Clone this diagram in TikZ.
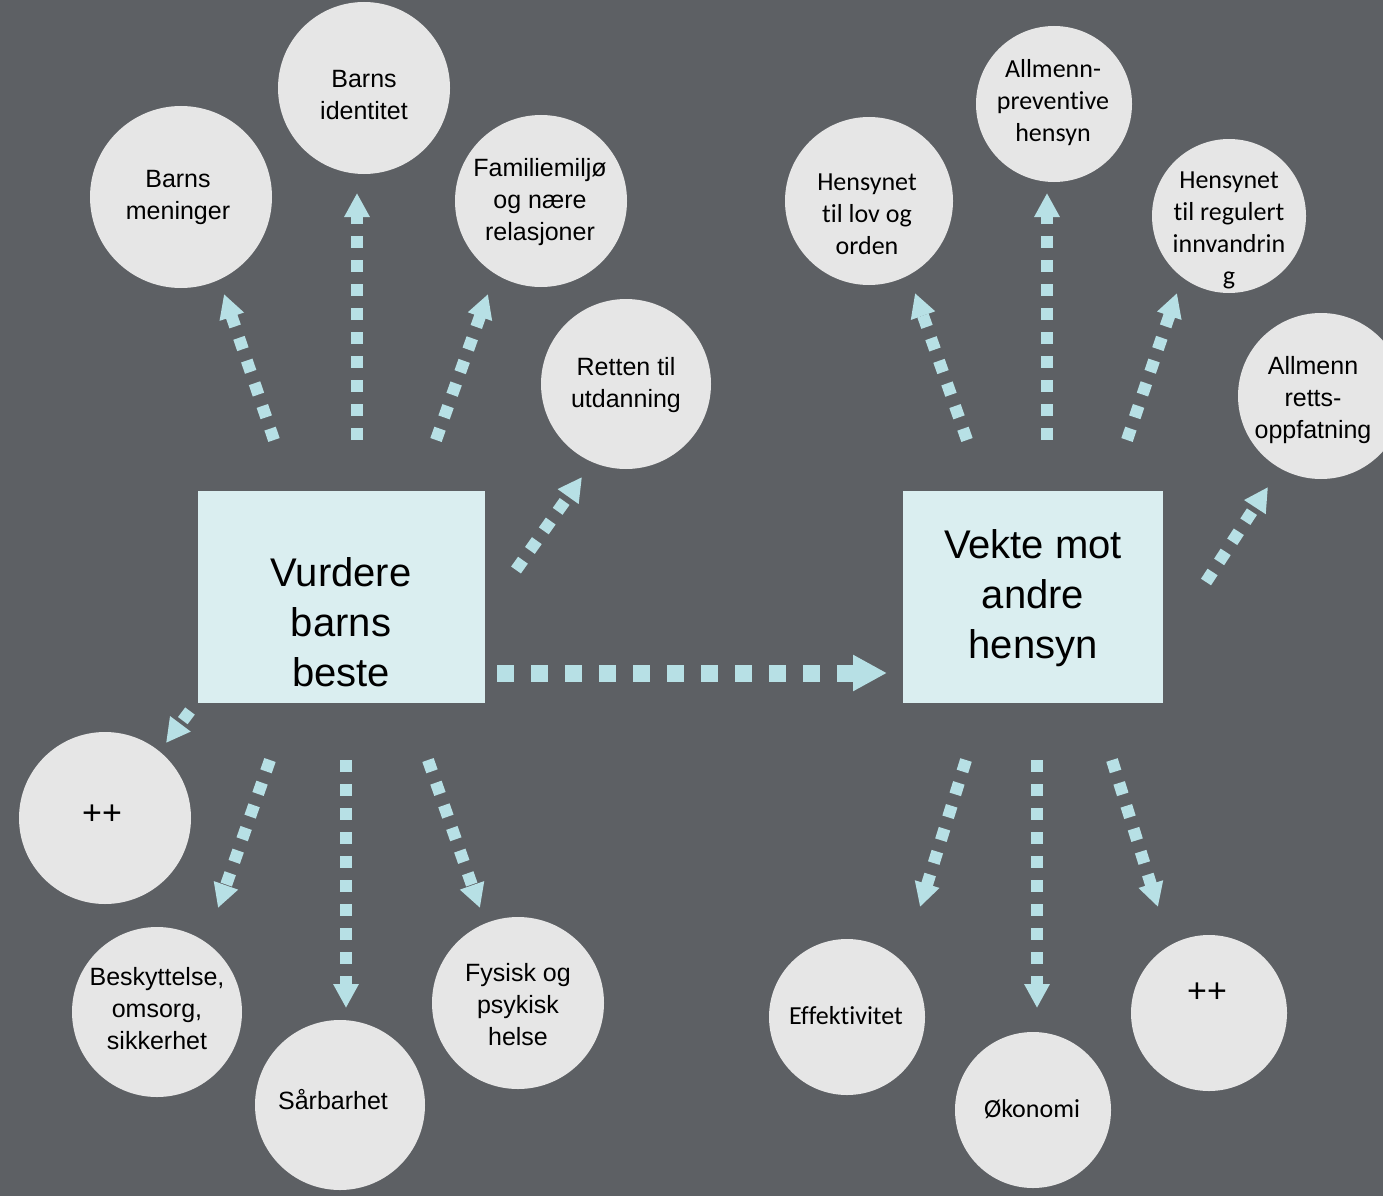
\documentclass[tikz,border=0pt]{standalone}
\usepackage{fontspec}
\setmainfont{Liberation Sans}
\newfontfamily\calfont[Ligatures=NoCommon]{Carlito}
\newcommand\tnolig{t\kern0pt i}
\usetikzlibrary{arrows.meta}
\definecolor{bgc}{RGB}{93,96,100}
\definecolor{circc}{RGB}{230,230,230}
\definecolor{boxc}{RGB}{218,238,240}
\definecolor{arrc}{RGB}{183,224,229}
\tikzset{
  circ/.style={circle, fill=circc, inner sep=0pt, minimum size=#1},
  boxn/.style={rectangle, fill=boxc, inner sep=0pt},
  ltxt/.style={align=center, text=black, inner sep=0pt, font=\fontsize{25}{32}\selectfont},
  rtxt/.style={align=center, text=black, inner sep=0pt, font=\calfont\fontsize{26}{32}\selectfont},
  plustxt/.style={text=black, inner sep=0pt, font=\fontsize{34}{40}\selectfont},
  btxt/.style={align=center, text=black, inner sep=0pt, font=\fontsize{40}{50}\selectfont},
  arr/.style={draw=arrc, line width=12pt, dash pattern=on 12pt off 12pt,
    -{Triangle[length=24pt,width=24pt,fill=arrc]}},
  bigarr/.style={draw=arrc, line width=17pt, dash pattern=on 17pt off 17pt,
    -{Triangle[length=34pt,width=34pt,fill=arrc]}}
}
\begin{document}
\begin{tikzpicture}[x=1pt,y=-1pt]
\useasboundingbox (0,0) rectangle (1383,1196);
\clip (0,0) rectangle (1383,1196);
\fill[bgc] (0,0) rectangle (1383,1196);

% boxes
\node[boxn, minimum width=287pt, minimum height=212pt] (b1) at (341.5,597) {};
\node[btxt] (b1t) at (341,622) {Vurdere\\barns\\beste};
\node[boxn, minimum width=260pt, minimum height=212pt] (b2) at (1033,597) {};
\node[btxt] (b2t) at (1033,598) {Vekte mot\\andre\\hensyn};

% left circles
\node[circ=182pt] (c1) at (181,197) {};
\node[ltxt] (c1t) at (178,197) {Barns\\meninger};
\node[circ=172pt] (c2) at (364,88) {};
\node[ltxt] (c2t) at (364,95) {Barns\\identitet};
\node[circ=172pt] (c3) at (541,201) {};
\node[ltxt] (c3t) at (540,202) {Familiemiljø\\og nære\\relasjoner};
\node[circ=170pt] (c4) at (626,384) {};
\node[ltxt] (c4t) at (626,385) {Retten til\\utdanning};
\node[circ=172pt] (c5) at (105,818) {};
\node[plustxt] (c5t) at (102,815) {++};
\node[circ=170pt] (c6) at (157,1012) {};
\node[ltxt] (c6t) at (157,1009) {Beskyttelse,\\omsorg,\\sikkerhet};
\node[circ=170pt] (c7) at (340,1105) {};
\node[ltxt] (c7t) at (333,1100) {Sårbarhet};
\node[circ=172pt] (c8) at (518,1003) {};
\node[ltxt] (c8t) at (518,1005) {Fysisk og\\psykisk\\helse};

% right circles
\node[circ=168pt] (c9) at (869,201) {};
\node[rtxt] (c9t) at (867,214) {Hensynet\\\tnolig l lov og\\orden};
\node[circ=156pt] (c10) at (1054,104) {};
\node[rtxt] (c10t) at (1053,103) {Allmenn-\\preven\tnolig ve\\hensyn};
\node[circ=154pt] (c11) at (1229,216) {};
\node[rtxt] (c11t) at (1229,230) {Hensynet\\\tnolig l regulert\\innvandrin\\g};
\node[circ=166pt] (c12) at (1321,396) {};
\node[ltxt] (c12t) at (1313,400) {Allmenn\\retts-\\oppfatning};
\node[circ=156pt] (c13) at (847,1017) {};
\node[rtxt] (c13t) at (846,1016) {Effek\tnolig vitet};
\node[circ=156pt] (c14) at (1033,1110) {};
\node[rtxt] (c14t) at (1032,1109) {Økonomi};
\node[circ=156pt] (c15) at (1209,1013) {};
\node[plustxt] (c15t) at (1207,993) {++};

% arrow end points
\coordinate (a1s) at (274,440); \coordinate (a1e) at (224,294);
\coordinate (a2s) at (357,440); \coordinate (a2e) at (357,193);
\coordinate (a3s) at (436,440); \coordinate (a3e) at (488,294);
\coordinate (a4s) at (516,570); \coordinate (a4e) at (582,477);
\coordinate (a5s) at (497,673); \coordinate (a5e) at (887,673);
\coordinate (a6s) at (190,711); \coordinate (a6e) at (166,743);
\coordinate (a7s) at (270,760); \coordinate (a7e) at (218,908);
\coordinate (a8s) at (346,760); \coordinate (a8e) at (346,1008);
\coordinate (a9s) at (428,760); \coordinate (a9e) at (480,908);
\coordinate (a10s) at (967,440); \coordinate (a10e) at (915,293);
\coordinate (a11s) at (1047,440); \coordinate (a11e) at (1047,193);
\coordinate (a12s) at (1127,440); \coordinate (a12e) at (1177,293);
\coordinate (a13s) at (1206,582); \coordinate (a13e) at (1268,487);
\coordinate (a14s) at (966,760); \coordinate (a14e) at (920,907);
\coordinate (a15s) at (1037,760); \coordinate (a15e) at (1037,1008);
\coordinate (a16s) at (1112,760); \coordinate (a16e) at (1158,907);

\draw[arr] (a1s) -- (a1e);
\draw[arr] (a2s) -- (a2e);
\draw[arr] (a3s) -- (a3e);
\draw[arr] (a4s) -- (a4e);
\draw[bigarr] (a5s) -- (a5e);
\draw[arr] (a6s) -- (a6e);
\draw[arr] (a7s) -- (a7e);
\draw[arr] (a8s) -- (a8e);
\draw[arr] (a9s) -- (a9e);
\draw[arr] (a10s) -- (a10e);
\draw[arr] (a11s) -- (a11e);
\draw[arr] (a12s) -- (a12e);
\draw[arr] (a13s) -- (a13e);
\draw[arr] (a14s) -- (a14e);
\draw[arr] (a15s) -- (a15e);
\draw[arr] (a16s) -- (a16e);
\end{tikzpicture}
\end{document}
